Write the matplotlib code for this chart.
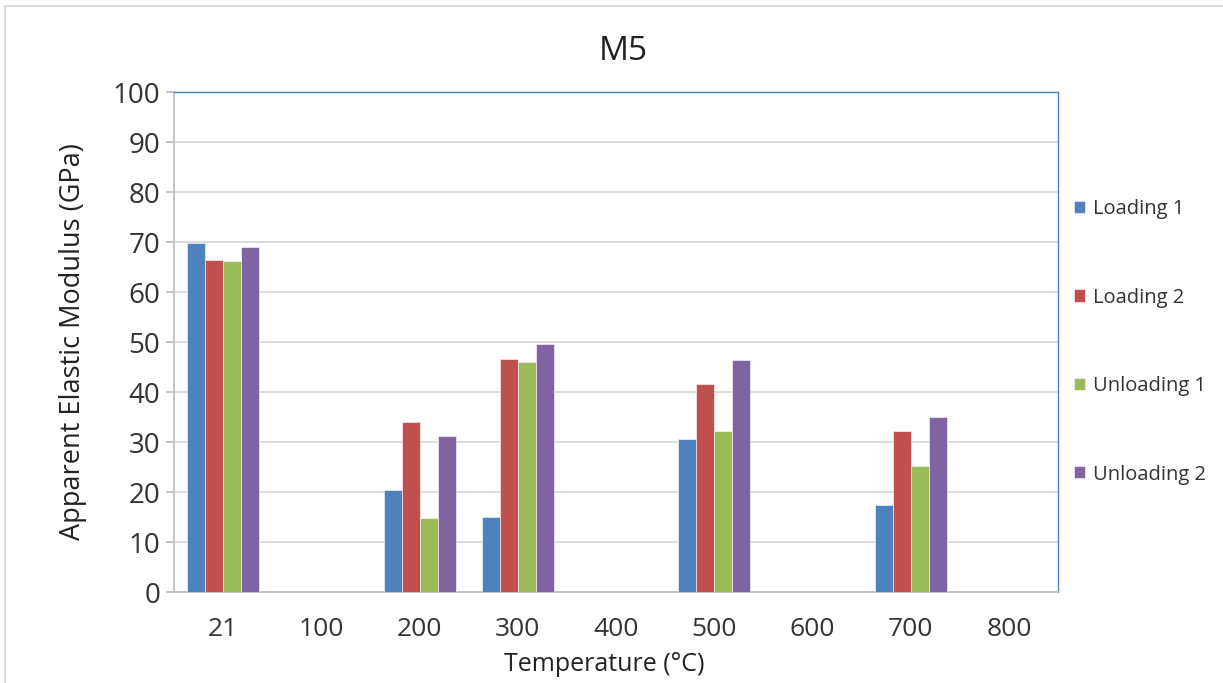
import numpy as np
import matplotlib.pyplot as plt
from matplotlib.patches import Rectangle

plt.rcParams['font.family'] = ['Open Sans', 'DejaVu Sans']

# data
temps = ["21", "100", "200", "300", "400", "500", "600", "700", "800"]
loading_1 = [69.8, 0, 20.5, 15.0, 0, 30.6, 0, 17.5, 0]
loading_2 = [66.4, 0, 34.0, 46.7, 0, 41.6, 0, 32.3, 0]
unloading_1 = [66.3, 0, 14.8, 46.1, 0, 32.2, 0, 25.3, 0]
unloading_2 = [69.0, 0, 31.3, 49.6, 0, 46.4, 0, 35.1, 0]

series = [("Loading 1", loading_1, "#4F81BD"),
          ("Loading 2", loading_2, "#C0504D"),
          ("Unloading 1", unloading_1, "#9BBB59"),
          ("Unloading 2", unloading_2, "#8064A2")]

fig = plt.figure(figsize=(12.23, 6.83), dpi=100)
ax = fig.add_axes([0.1423, 0.1332, 0.7228, 0.7321])

x = np.arange(len(temps))
w = 0.183
for i, (name, vals, col) in enumerate(series):
    ax.bar(x + (i - 1.5) * w, vals, width=w, color=col, label=name,
           edgecolor="white", linewidth=0.4, zorder=3)

ax.set_xlim(-0.5, len(temps) - 0.5)
ax.set_ylim(0, 100)
ax.set_yticks(range(0, 101, 10))
ax.set_xticks(x)
ax.set_xticklabels(temps)
ax.grid(axis="y", color="#D9D9D9", linewidth=1.3, zorder=0)

for s in ["left", "bottom"]:
    ax.spines[s].set_color("#BFBFBF")
    ax.spines[s].set_linewidth(1.3)
for s in ["top", "right"]:
    ax.spines[s].set_color("#4F81BD")
    ax.spines[s].set_linewidth(1.0)

ax.tick_params(axis="y", length=6, color="#BFBFBF", width=1.3,
               labelsize=20, labelcolor="#333333", pad=4)
ax.tick_params(axis="x", length=0, labelsize=19, labelcolor="#333333", pad=18)

fig.text(0.5094, 0.924, "M5", ha="center", va="center", fontsize=24, color="#222222")
fig.text(0.0595, 0.50, "Apparent Elastic Modulus (GPa)", rotation=90,
         ha="center", va="center", fontsize=19.5, color="#222222")
fig.text(0.494, 0.027, "Temperature (°C)", ha="center", va="center",
         fontsize=18, color="#222222")

handles, labels = ax.get_legend_handles_labels()
leg = fig.legend(handles, labels, loc="upper left", bbox_to_anchor=(0.863, 0.735),
                 frameon=False, fontsize=14.5, labelspacing=3.4,
                 handlelength=0.55, handleheight=0.55, handletextpad=0.4)
for t in leg.get_texts():
    t.set_color("#333333")

fig.patches.append(Rectangle((0.004, -0.1), 1.2, 1.091, transform=fig.transFigure,
                             fill=False, edgecolor="#D9D9D9", linewidth=1.5))

fig.savefig("out.png", dpi=100)
